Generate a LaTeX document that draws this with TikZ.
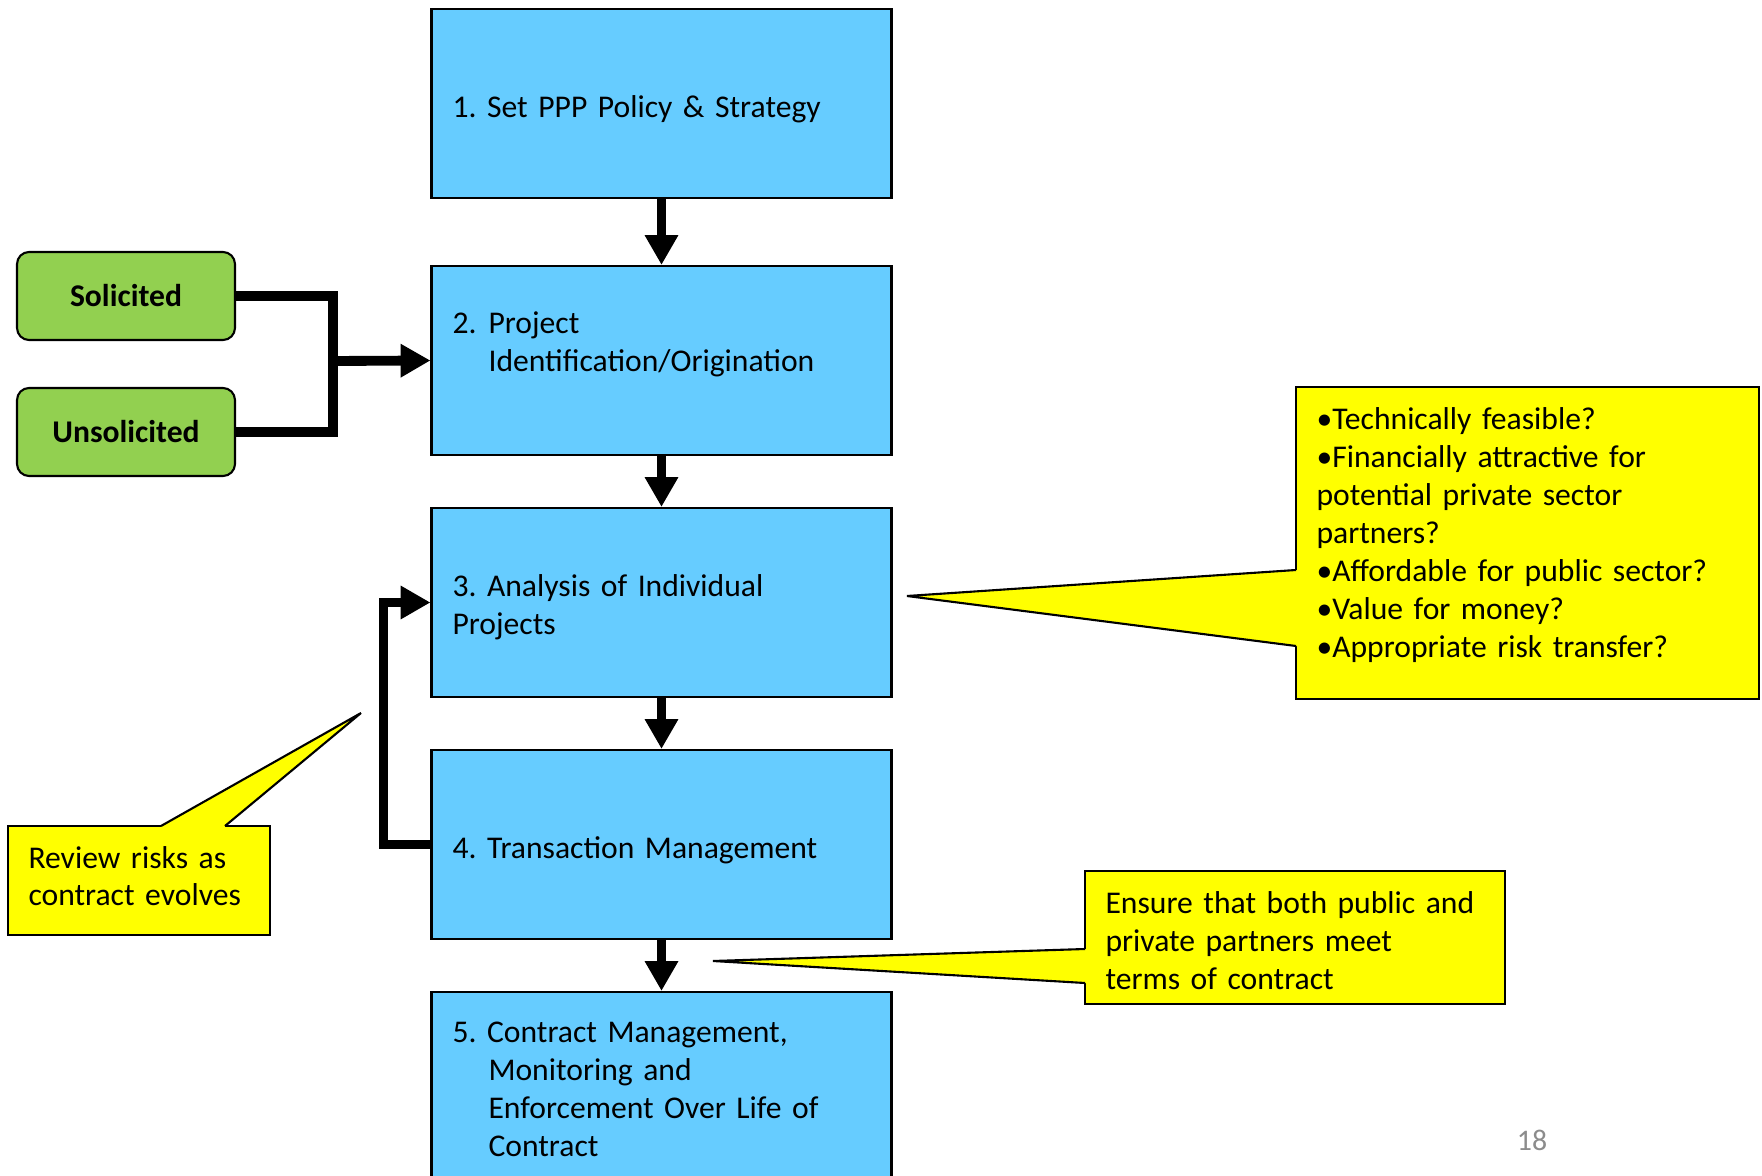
\documentclass[tikz,border=0pt]{standalone}
\usepackage{fontspec}
\setmainfont{Carlito}
\usetikzlibrary{arrows.meta}
\definecolor{stageblue}{HTML}{66CCFF}
\definecolor{sourcegreen}{HTML}{92D050}
\definecolor{noteyellow}{HTML}{FFFF00}
\definecolor{pagegray}{HTML}{8C8C8C}
\newcommand{\bodyfont}{\fontsize{18}{21.6}\selectfont}
\newcommand{\hang}{\hspace*{0.72cm}}
\frenchspacing
\begin{document}
\begin{tikzpicture}[
        x=0.02cm, y=-0.02cm,
        stage/.style   = {rectangle, draw, line width=1.2pt, fill=stageblue,
                          minimum width=9.2cm, minimum height=3.78cm,
                          inner xsep=0.42cm, text width=8.36cm,
                          align=left, font=\bodyfont},
        oneline/.style = {text height=15.5pt, text depth=0pt},
        source/.style  = {rectangle, draw, line width=1.2pt, fill=sourcegreen,
                          rounded corners=0.24cm, minimum width=4.36cm,
                          minimum height=1.76cm, font=\bodyfont\bfseries},
        note/.style    = {rectangle, draw, line width=1.2pt, fill=noteyellow,
                          inner xsep=0.41cm, align=left, font=\bodyfont},
        pointer/.style = {line width=1.2pt, line join=miter},
        flow/.style    = {line width=5.6pt, line join=miter},
        flowarr/.style = {flow, -{Triangle[width=18pt,length=17pt]}}
    ]
        \clip (0,0) rectangle (1762,1176);

        % process stages
        \node[stage, oneline] (s1) at (661.5, 103.5)
            {1. Set PPP Policy \& Strategy};
        \node[stage] (s2) at (661.5, 360.5)
            {\makebox[0.72cm][l]{2.}Project\\
             \hang Identification/Origination\\ \mbox{}};
        \node[stage, text height=17.5pt] (s3) at (661.5, 602.5)
            {3. Analysis of Individual\\Projects};
        \node[stage, oneline] (s4) at (661.5, 844.5)
            {4. Transaction Management};
        \node[stage, minimum height=3.88cm] (s5) at (661.5, 1089)
            {5. Contract Management,\\
             \hang Monitoring and\\
             \hang Enforcement Over Life of\\
             \hang Contract};

        % project sources
        \node[source] (sol)   at (126, 296) {Solicited};
        \node[source] (unsol) at (126, 432) {Unsolicited};
        \coordinate (join) at (333, 361);

        \draw[flow] (sol.east) -| (join) |- (unsol.east);
        \draw[flowarr] (join) -- (s2.west);
        \draw[flowarr] (s1.south) -- (s2.north);
        \draw[flowarr] (s2.south) -- (s3.north);
        \draw[flowarr] (s3.south) -- (s4.north);
        \draw[flowarr] (s4.south) -- (s5.north);
        \draw[flowarr] (s4.west) -- ++(-47,0) |- (s3.west);

        % notes
        \node[note, text width=8.44cm, minimum height=6.24cm, text height=3.5pt]
            (checks) at (1527.5, 543)
            {\textbullet Technically feasible?\\
             \textbullet Financially attractive for\\
             potential private sector\\
             partners?\\
             \textbullet Affordable for public sector?\\
             \textbullet Value for money?\\
             \textbullet Appropriate risk transfer?};
        \node[note, text width=7.58cm, minimum height=2.66cm, text height=16.5pt]
            (ensure) at (1295, 937.5)
            {Ensure that both public and\\
             private partners meet\\
             terms of contract};
        \node[note, text width=4.42cm, minimum height=2.18cm, text height=7.5pt]
            (review) at (139, 880.5)
            {Review risks as\\contract evolves};

        % note pointers
        \coordinate (checksA) at (1296, 570);
        \coordinate (checksB) at (1296, 646);
        \coordinate (checksT) at (907, 596);
        \coordinate (ensureA) at (1085, 949);
        \coordinate (ensureB) at (1085, 983);
        \coordinate (ensureT) at (713, 961);
        \coordinate (reviewA) at (161, 826);
        \coordinate (reviewB) at (225, 826);
        \coordinate (reviewT) at (361, 713);

        \fill[noteyellow] (checksA) -- (checksT) -- (checksB)
            -- ++(3,0) -- ([xshift=3*0.02cm]checksA) -- cycle;
        \draw[pointer] (checksA) -- (checksT) -- (checksB);
        \fill[noteyellow] (ensureA) -- (ensureT) -- (ensureB)
            -- ++(3,0) -- ([xshift=3*0.02cm]ensureA) -- cycle;
        \draw[pointer] (ensureA) -- (ensureT) -- (ensureB);
        \fill[noteyellow] (reviewA) -- (reviewT) -- (reviewB)
            -- ++(0,3) -- ([yshift=-3*0.02cm]reviewA) -- cycle;
        \draw[pointer] (reviewA) -- (reviewT) -- (reviewB);

        % slide number
        \node[text=pagegray, font=\fontsize{17}{20}\selectfont]
            (page) at (1532, 1140) {18};
    \end{tikzpicture}
\end{document}
